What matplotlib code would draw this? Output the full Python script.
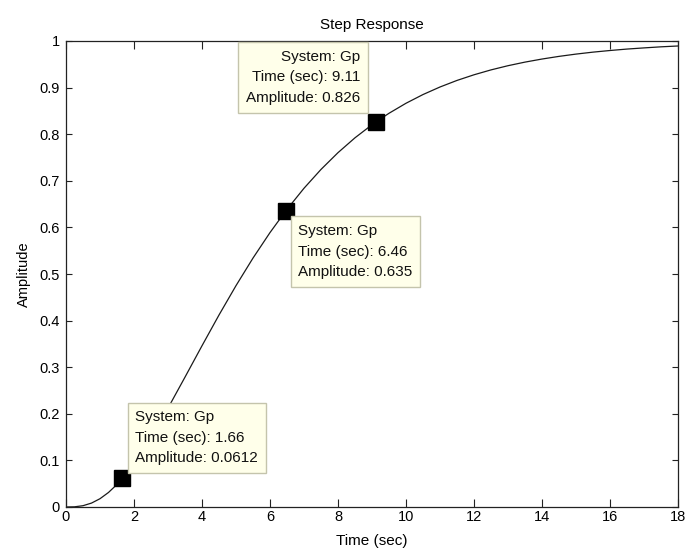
import matplotlib
matplotlib.use("Agg")
import matplotlib.pyplot as plt

plt.rcParams['font.family'] = ['Liberation Sans', 'DejaVu Sans']

# Step response samples
time_s = [0, 0.25, 0.5, 0.75, 1.0, 1.25, 1.5, 1.66, 2.0, 2.5, 3.0, 3.5, 4.0, 4.5, 5.0,
          5.5, 6.0, 6.46, 6.5, 7.0, 7.5, 8.0, 8.5, 9.0, 9.11, 9.5, 10.0, 10.5, 11.0,
          11.5, 12.0, 12.5, 13.0, 13.5, 14.0, 14.5, 15.0, 15.5, 16.0, 16.5, 17.0,
          17.5, 18.0]
amplitude = [0.0, 0.0004, 0.0028, 0.0084, 0.0178, 0.0312, 0.0485, 0.0612, 0.0935,
             0.1493, 0.2122, 0.2787, 0.3460, 0.4120, 0.4750, 0.5342, 0.5889, 0.635,
             0.6388, 0.6840, 0.7244, 0.7604, 0.7923, 0.8203, 0.826, 0.8449, 0.8664,
             0.8851, 0.9013, 0.9154, 0.9275, 0.9380, 0.9470, 0.9547, 0.9613, 0.9670,
             0.9719, 0.9761, 0.9796, 0.9827, 0.9852, 0.9875, 0.9893]

# Data tips
tip_system = ["Gp", "Gp", "Gp"]
tip_time = [1.66, 6.46, 9.11]
tip_amp = [0.0612, 0.635, 0.826]

x_ticks = list(range(0, 19, 2))
y_ticks = [0, 0.1, 0.2, 0.3, 0.4, 0.5, 0.6, 0.7, 0.8, 0.9, 1]
y_tick_labels = ['0', '0.1', '0.2', '0.3', '0.4', '0.5', '0.6', '0.7', '0.8', '0.9', '1']

fig = plt.figure(figsize=(6.86, 5.54), dpi=100)
ax = fig.add_axes([66/686, 47/554, 612/686, 466/554])

ax.plot(time_s, amplitude, color='#1a1a1a', lw=0.9)
ax.plot(tip_time, tip_amp, linestyle='none', marker='s', markersize=11.5,
        color='black')

ax.set_xlim(0, 18)
ax.set_ylim(0, 1)
ax.set_xticks(x_ticks)
ax.set_yticks(y_ticks)
ax.set_yticklabels(y_tick_labels)
ax.tick_params(axis='both', direction='in', top=True, right=True, labelsize=10.5,
               width=0.8, color='#222222')
ax.tick_params(axis='x', length=5.5, pad=2.5)
ax.tick_params(axis='y', length=4.3, pad=4.5)
for sp in ax.spines.values():
    sp.set_color('#222222')
    sp.set_linewidth(0.9)

ax.set_title('Step Response', fontsize=11, pad=9)
ax.set_xlabel('Time (sec)', fontsize=11, labelpad=7)
ax.set_ylabel('Amplitude', fontsize=10.5, labelpad=6)

# data tip boxes: (ha, va, dx, dy) in pixels
tip_layout = [('left', 'bottom', 13, 13), ('left', 'top', 12.5, -13),
              ('right', 'bottom', -15.5, 17)]
for sysname, t, a, (ha, va, dx, dy) in zip(tip_system, tip_time, tip_amp, tip_layout):
    txt = f"System: {sysname}\nTime (sec): {t:g}\nAmplitude: {a:g}"
    ax.annotate(txt, xy=(t, a), xycoords='data', xytext=(dx, dy),
                textcoords='offset pixels', ha=ha, va=va, multialignment=ha,
                fontsize=11, linespacing=1.6, color='#111111',
                bbox=dict(boxstyle='square,pad=0.5', fc='#ffffea', ec='#c4c4ac', lw=1),
                zorder=5)

fig.savefig('out.png', dpi=100)
